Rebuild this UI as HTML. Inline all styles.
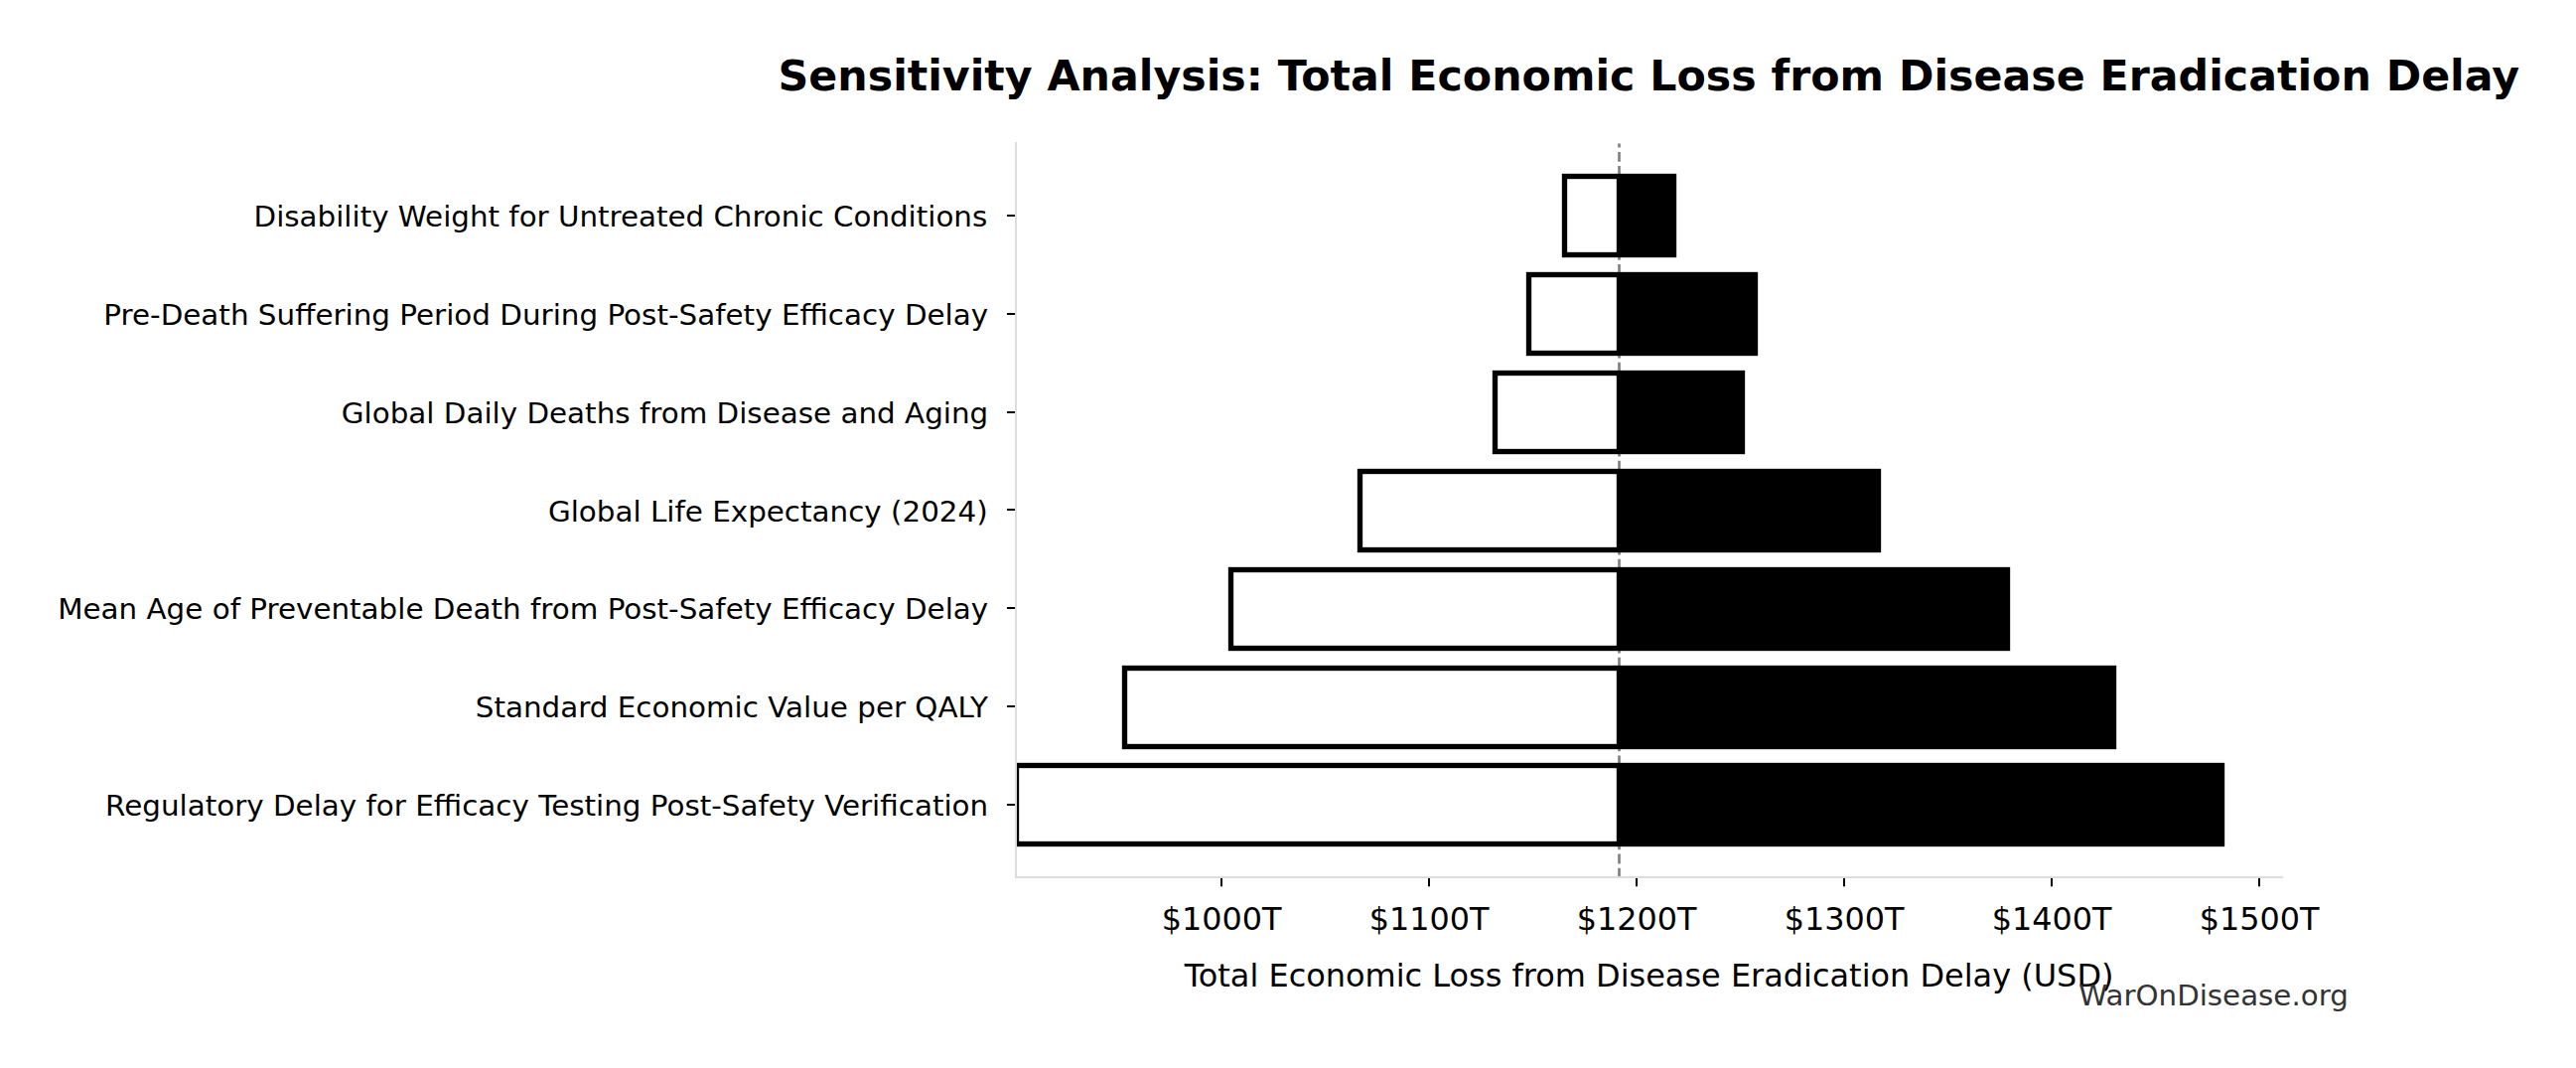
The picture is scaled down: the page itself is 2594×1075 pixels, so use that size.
<!DOCTYPE html>
<html lang="en"><head><meta charset="utf-8"><title>Sensitivity Analysis</title>
<style>
html,body{margin:0;padding:0;background:#fff;}
body{width:2594px;height:1075px;overflow:hidden;}
svg{display:block;}
text{font-family:"DejaVu Sans","Liberation Sans",sans-serif;fill:#000;}
</style></head><body>
<svg width="2594" height="1075" viewBox="0 0 2594 1075">
<rect width="2594" height="1075" fill="#fff"/>
<defs><clipPath id="ax"><rect x="1023" y="143" width="1276" height="740"/></clipPath></defs>
<line x1="1630.5" y1="883.53" x2="1630.5" y2="144.4" stroke="#808080" stroke-width="2.67" stroke-dasharray="9.87 4.263"/>
<g clip-path="url(#ax)">
<rect x="1572.83" y="174.83" width="115.34" height="84.34" fill="#000"/><rect x="1578.17" y="180.17" width="49.66" height="73.66" fill="#fff"/>
<rect x="1536.83" y="273.83" width="233.34" height="84.34" fill="#000"/><rect x="1542.17" y="279.17" width="85.66" height="73.66" fill="#fff"/>
<rect x="1502.83" y="372.83" width="254.34" height="84.34" fill="#000"/><rect x="1508.17" y="378.17" width="119.66" height="73.66" fill="#fff"/>
<rect x="1366.83" y="471.83" width="527.34" height="84.34" fill="#000"/><rect x="1372.17" y="477.17" width="255.66" height="73.66" fill="#fff"/>
<rect x="1236.83" y="570.83" width="787.34" height="84.34" fill="#000"/><rect x="1242.17" y="576.17" width="385.66" height="73.66" fill="#fff"/>
<rect x="1129.83" y="669.83" width="1001.34" height="84.34" fill="#000"/><rect x="1135.17" y="675.17" width="492.66" height="73.66" fill="#fff"/>
<rect x="1020.83" y="767.83" width="1219.34" height="84.34" fill="#000"/><rect x="1026.17" y="773.17" width="601.66" height="73.66" fill="#fff"/>
</g>
<rect x="1022" y="143" width="2" height="741" fill="#ddd"/>
<rect x="1022" y="882" width="1277" height="2" fill="#ddd"/>
<rect x="1014" y="216" width="8" height="2" fill="#000"/><text transform="translate(994.2 227.6) scale(1 0.955)" font-size="29.34" text-anchor="end">Disability Weight for Untreated Chronic Conditions</text>
<rect x="1014" y="315" width="8" height="2" fill="#000"/><text transform="translate(995.2 327.4) scale(1 0.955)" font-size="29.4" text-anchor="end">Pre-Death Suffering Period During Post-Safety Efficacy Delay</text>
<rect x="1014" y="414" width="8" height="2" fill="#000"/><text transform="translate(995.2 426.3) scale(1 0.955)" font-size="29.38" text-anchor="end">Global Daily Deaths from Disease and Aging</text>
<rect x="1014" y="512" width="8" height="2" fill="#000"/><text transform="translate(994.7 525.2) scale(1 0.955)" font-size="29.38" text-anchor="end">Global Life Expectancy (2024)</text>
<rect x="1014" y="611" width="8" height="2" fill="#000"/><text transform="translate(995.2 622.93) scale(1 0.955)" font-size="29.38" text-anchor="end">Mean Age of Preventable Death from Post-Safety Efficacy Delay</text>
<rect x="1014" y="710" width="8" height="2" fill="#000"/><text transform="translate(995.0 721.77) scale(1 0.955)" font-size="29.38" text-anchor="end">Standard Economic Value per QALY</text>
<rect x="1014" y="809" width="8" height="2" fill="#000"/><text transform="translate(995.2 820.6) scale(1 0.955)" font-size="29.38" text-anchor="end">Regulatory Delay for Efficacy Testing Post-Safety Verification</text>
<rect x="1229" y="884" width="2" height="8.3" fill="#000"/><text x="1230.1" y="935.7" font-size="31.85" text-anchor="middle">$1000T</text>
<rect x="1438" y="884" width="2" height="8.3" fill="#000"/><text x="1439.1" y="935.7" font-size="31.85" text-anchor="middle">$1100T</text>
<rect x="1647" y="884" width="2" height="8.3" fill="#000"/><text x="1648.1" y="935.7" font-size="31.85" text-anchor="middle">$1200T</text>
<rect x="1856" y="884" width="2" height="8.3" fill="#000"/><text x="1857.1" y="935.7" font-size="31.85" text-anchor="middle">$1300T</text>
<rect x="2065" y="884" width="2" height="8.3" fill="#000"/><text x="2066.1" y="935.7" font-size="31.85" text-anchor="middle">$1400T</text>
<rect x="2274" y="884" width="2" height="8.3" fill="#000"/><text x="2275.1" y="935.7" font-size="31.85" text-anchor="middle">$1500T</text>
<text x="1660.6" y="992.6" font-size="31.96" text-anchor="middle">Total Economic Loss from Disease Eradication Delay (USD)</text>
<text transform="translate(2364.8 1012.2) scale(1 0.955)" font-size="29.33" text-anchor="end" style="fill:#333">WarOnDisease.org</text>
<text x="1660.35" y="91.3" font-size="42.72" font-weight="bold" text-anchor="middle">Sensitivity Analysis: Total Economic Loss from Disease Eradication Delay</text>
</svg>
</body></html>
